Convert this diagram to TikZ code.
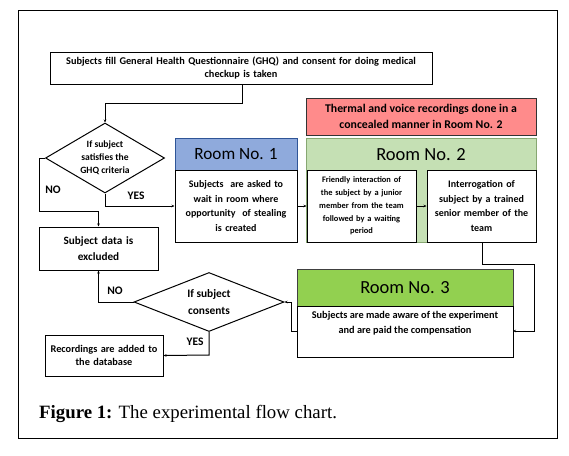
\documentclass[tikz,border=0pt]{standalone}
\usepackage{fontspec}
\setmainfont{Carlito}
\newfontfamily\capfont{Liberation Serif}
\usetikzlibrary{shapes.geometric,arrows.meta,shadows}
\definecolor{roomA}{HTML}{8FAADC}
\definecolor{roomAline}{HTML}{2F5597}
\definecolor{roomB}{HTML}{C5E0B4}
\definecolor{roomBline}{HTML}{548235}
\definecolor{roomC}{HTML}{92D050}
\definecolor{pinkbox}{HTML}{FF8B8B}
\tikzset{
  shad/.style={drop shadow={shadow xshift=1.2pt,shadow yshift=-1.2pt,fill=black!45,opacity=0.6}},
  box/.style={draw=black,line width=1pt,fill=white,inner sep=0pt,align=center,font=\bfseries\fontsize{10}{14}\selectfont,shad},
  dia/.style={draw=black,line width=1pt,fill=white,diamond,inner sep=0pt},
  txt/.style={align=center,inner sep=0pt},
  conn/.style={line width=1pt,-{Stealth[length=3pt,width=2.5pt]}},
  lbl/.style={font=\bfseries\fontsize{11.5}{13}\selectfont,inner sep=0pt},
  roomtitle/.style={font=\fontsize{18.5}{20}\selectfont,inner sep=0pt}
}
\begin{document}
\begin{tikzpicture}[x=1pt,y=-1pt]
\useasboundingbox (0,0) rectangle (569,455);
\draw[line width=0.8pt] (18,10) rectangle (557,438);

% top box
\node[box,minimum width=382pt,minimum height=32pt,text width=378pt,font=\bfseries\fontsize{10.3}{13}\selectfont] (top) at (241,68)
  {Subjects fill General Health Questionnaire (GHQ) and consent for doing medical\\checkup is taken};

% decision 1
\node[dia,minimum width=119pt,minimum height=70pt,aspect=1.7] (d1) at (105,158) {};
\node[txt,font=\bfseries\fontsize{9.6}{13}\selectfont] (d1t) at (105,158) {If subject\\satisfies the\\GHQ criteria};

% room 1
\node[draw=roomAline,line width=1pt,fill=roomA,minimum width=122pt,minimum height=32pt,inner sep=0pt,shad] (r1h) at (236,154) {};
\node[roomtitle,font=\fontsize{17.2}{20}\selectfont] (r1t) at (236,154) {Room No. 1};
\node[box,minimum width=122pt,minimum height=72pt,text width=120pt,font=\bfseries\fontsize{10}{14.5}\selectfont] (r1b) at (236,206)
  {Subjects\ \ are asked to\\wait in room where\\opportunity\ \ of stealing\\is created};

% pink box
\node[draw=black!80,line width=1pt,fill=pinkbox,minimum width=230pt,minimum height=37pt,inner sep=0pt,txt,font=\bfseries\fontsize{11.8}{16}\selectfont,shad] (pink) at (421,116.5)
  {Thermal and voice recordings done in a\\concealed manner in Room No. 2};

% room 2
\node[draw=roomBline!70,line width=0.8pt,fill=roomB,minimum width=230pt,minimum height=104pt,inner sep=0pt,shad] (r2) at (421,190) {};
\node[roomtitle] (r2t) at (421,155) {Room No. 2};
\node[box,minimum width=109pt,minimum height=72pt,text width=107pt,font=\bfseries\fontsize{8.4}{12.8}\selectfont] (ra) at (361.5,206)
  {Friendly interaction of\\the subject by a junior\\member from the team\\followed by a waiting\\period};
\node[box,minimum width=109pt,minimum height=72pt,text width=107pt,font=\bfseries\fontsize{10}{14.5}\selectfont] (rb) at (481.5,206)
  {Interrogation of\\subject by a trained\\senior member of the\\team};

% excluded
\node[box,minimum width=119pt,minimum height=43pt,text width=117pt,font=\bfseries\fontsize{11.2}{16}\selectfont] (excl) at (98.5,248.5)
  {Subject data is\\excluded};

% decision 2
\node[dia,minimum width=150pt,minimum height=59pt,aspect=2.5] (d2) at (209,302) {};
\node[txt,font=\bfseries\fontsize{11.4}{17}\selectfont] (d2t) at (209,302.5) {If subject\\consents};

% recordings
\node[box,minimum width=118pt,minimum height=41pt,text width=116pt,font=\bfseries\fontsize{10.3}{13}\selectfont] (rec) at (104,355.5)
  {Recordings are added to\\the database};

% room 3
\node[draw=black!75,line width=1pt,fill=roomC,minimum width=216pt,minimum height=37pt,inner sep=0pt,shad] (r3h) at (405,287.5) {};
\node[roomtitle] (r3t) at (405,287.5) {Room No. 3};
\node[box,minimum width=216pt,minimum height=51pt] (r3b) at (405,331.5) {};
\node[txt,font=\bfseries\fontsize{10.3}{15}\selectfont] (r3bt) at (405,323.5)
  {Subjects are made aware of the experiment\\and are paid the compensation};

% caption
\node[anchor=base west,inner sep=0pt,font=\capfont\fontsize{18.8}{20}\selectfont] (cap) at (39,418)
  {\textbf{Figure 1:} The experimental flow chart.};

% connectors
\coordinate (c1) at (242,84);
\draw[conn] (c1) -- (242,103) -- (105,103) -- (d1.north);
\draw[conn] (d1.west) -- (39,158) -- (39,211) -- (98.5,211) -- (excl.north);
\draw[conn] (d1.south) -- (105,206) -- (r1b.west);
\draw[conn] (r1b.east) -- (ra.west);
\draw[conn] (ra.east) -- (rb.west);
\coordinate (c2) at (482,242);
\coordinate (c2e) at (513,331);
\draw[conn] (c2) -- (482,264) -- (534,264) -- (534,331) -- (c2e);
\coordinate (c3) at (297,331);
\draw[conn] (c3) -- (291,331) -- (291,302) -- (d2.east);
\draw[conn] (d2.west) -- (98.5,302) -- (excl.south);
\draw[conn] (d2.south) -- (209,355) -- (rec.east);

\node[lbl] (no1) at (53,190) {NO};
\node[lbl] (yes1) at (136,196) {YES};
\node[lbl] (no2) at (115,291) {NO};
\node[lbl] (yes2) at (195,342) {YES};
\end{tikzpicture}
\end{document}
